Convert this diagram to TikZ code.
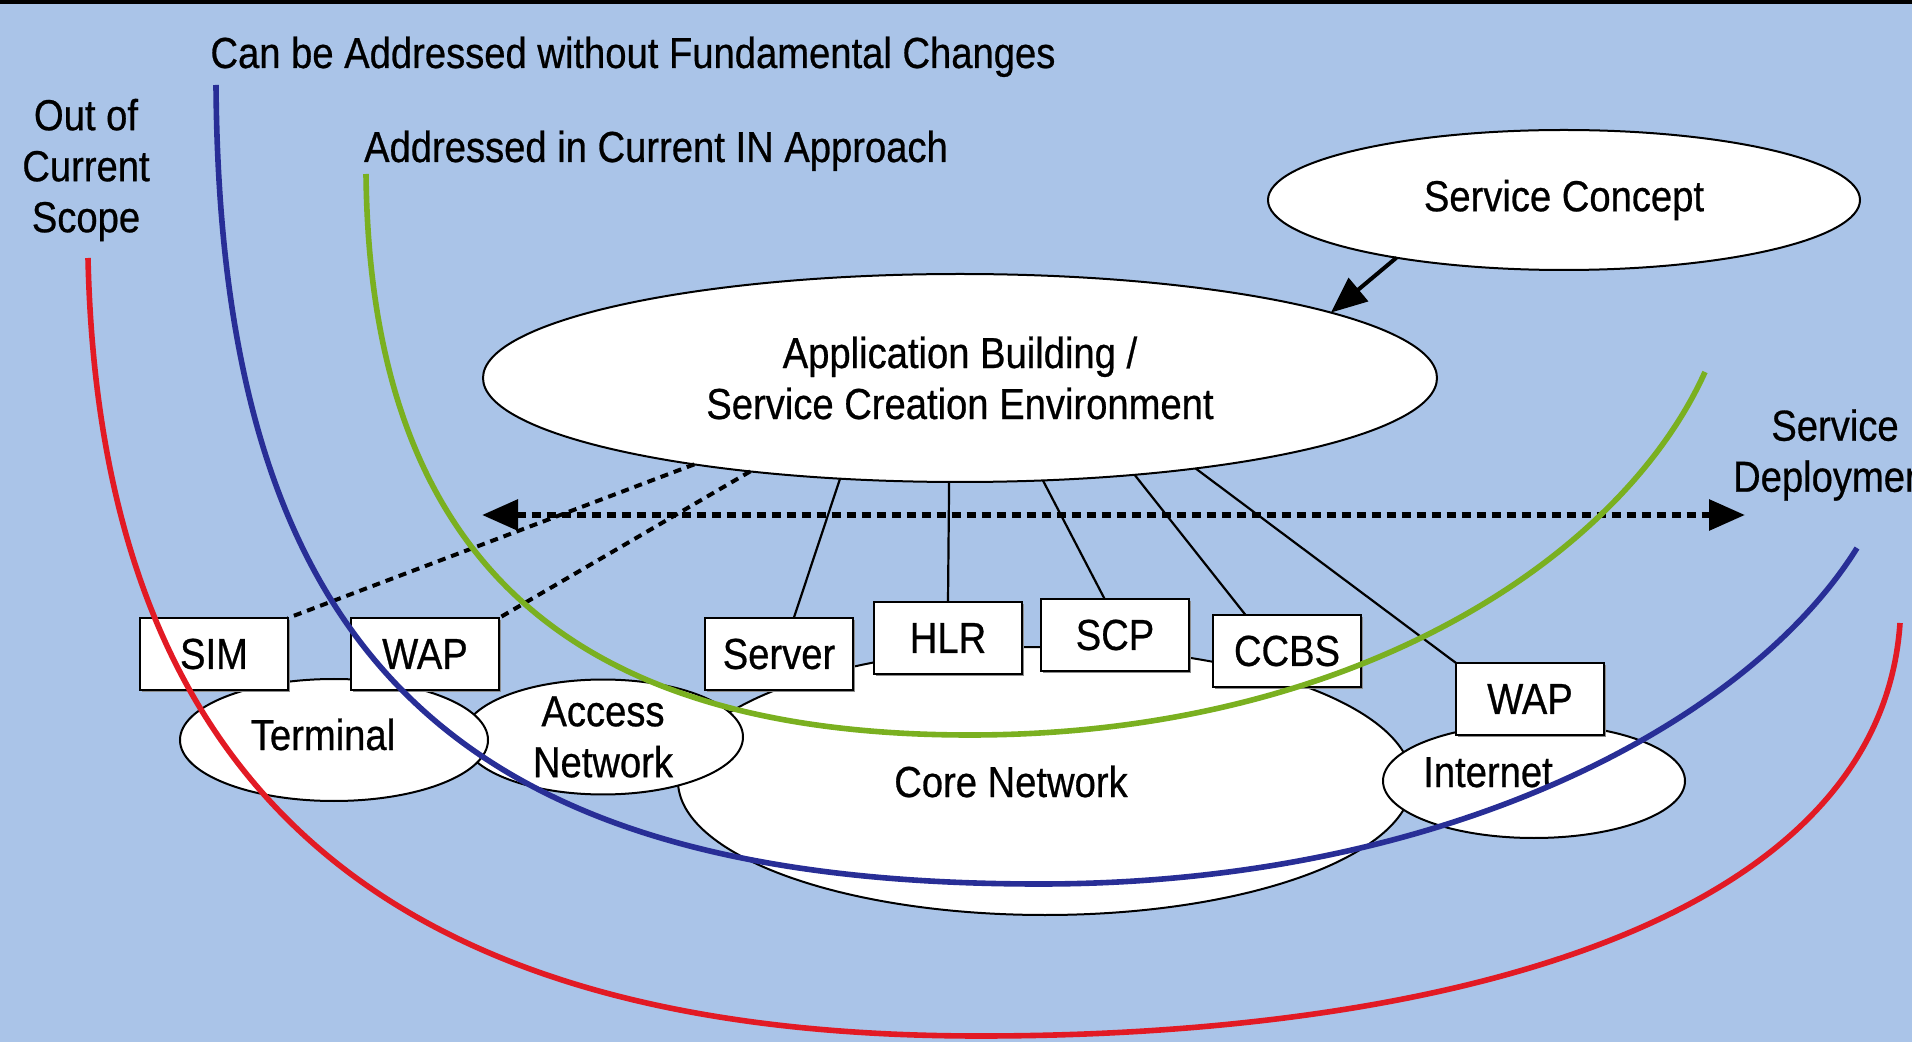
\documentclass[tikz,border=0pt]{standalone}
\usepackage{fontspec}
\setmainfont{Liberation Sans}[FakeStretch=0.88,FakeBold=0.6]
\usetikzlibrary{arrows.meta,calc,shapes.geometric,shadows}
\definecolor{bgblue}{RGB}{170,196,232}
\definecolor{curvered}{RGB}{226,26,36}
\definecolor{curveblue}{RGB}{40,46,150}
\definecolor{curvegreen}{RGB}{122,176,32}
\begin{document}
\begin{tikzpicture}[x=0.5pt,y=-0.5pt,
  every node/.style={font=\fontsize{21.7pt}{25.5pt}\selectfont, text=black},
  oval/.style={ellipse, draw=black, line width=1pt, fill=white, inner sep=0pt, outer sep=0pt, align=center},
  box/.style={rectangle, draw=black, line width=1.1pt, fill=white, minimum width=74pt, minimum height=36pt,
    inner sep=0pt, outer sep=0pt, drop shadow={shadow xshift=1.2pt, shadow yshift=-1.2pt, fill=black!45, opacity=1}},
  lbl/.style={inner sep=0pt, outer sep=0pt, align=center},
  conn/.style={draw=black, line width=1.1pt},
  dotline/.style={draw=black, line width=2pt, dash pattern=on 4pt off 3pt},
  dotarrow/.style={draw=black, line width=3pt, dash pattern=on 4.5pt off 3pt,
    {Triangle[length=18pt,width=15pt]}-{Triangle[length=18pt,width=15pt]}},
  scarrow/.style={draw=black, line width=2pt, -{Triangle[length=18pt,width=15pt]}},
  curve/.style={line width=2.8pt}
]
% background and frame
\fill[bgblue] (0,0) rectangle (1912,1042);
\useasboundingbox (0,0) rectangle (1912,1042);
\clip (0,0) rectangle (1912,1042);
\fill[black] (0,0) rectangle (1912,4);

% ellipses
\node[oval, minimum width=367pt, minimum height=134pt] (core) at (1045,781) {};
\node[oval, minimum width=140pt, minimum height=57pt] (access) at (603,737) {Access\\Network};
\node[oval, minimum width=154pt, minimum height=61pt] (terminal) at (334,740) {};
\node[oval, minimum width=151pt, minimum height=57pt] (internet) at (1534,781) {};
\node[oval, minimum width=477pt, minimum height=104pt] (app) at (960,378) {Application Building /\\Service Creation Environment};
\node[oval, minimum width=296pt, minimum height=70pt] (sc) at (1564,200) {Service Concept};

% texts inside terminal, core and internet
\node[lbl, anchor=base] (termtext) at (323,750) {Terminal};
\node[lbl, anchor=base] (coretext) at (1011,797) {Core Network};
\node[lbl, anchor=base] (internettext) at (1488,787) {Internet};

% boxes
\node[box] (sim) at (214,654) {SIM};
\node[box] (wapl) at (425,654) {WAP};
\node[box] (server) at (779,654) {Server};
\node[box] (hlr) at (948,638) {HLR};
\node[box] (scp) at (1115,635) {SCP};
\node[box] (ccbs) at (1287,651) {CCBS};
\node[box] (wapr) at (1530,699) {WAP};

% connectors
\draw[conn] (app.-140.3) -- ($(server.north west)!0.6!(server.north east)$);
\draw[conn] (app.-96.6) -- (hlr.north);
\draw[conn] (app.-51.7) -- ($(scp.north west)!0.43!(scp.north east)$);
\draw[conn] (app.-29.9) -- ($(ccbs.north west)!0.22!(ccbs.north east)$);
\draw[conn] (app.-21.7) -- (wapr.north west);
\draw[dotline] (app.198.4) -- (sim.north east);
\draw[dotline] (app.-156) -- (wapl.north east);
\draw[scarrow] (sc.-161) -- (app.10.5);
\coordinate (dl) at (482,515);
\coordinate (dr) at (1745,515);
\draw[dotarrow] (dl) -- (dr);

% scope curves
\draw[curve, curvered] (88,258) .. controls (100,800) and (400,1036) .. (980,1036)
  .. controls (1450,1036) and (1880,920) .. (1900,623);
\draw[curve, curveblue] (216,85) .. controls (220,650) and (450,884) .. (1040,884)
  .. controls (1450,884) and (1750,720) .. (1857,548);
\draw[curve, curvegreen] (366,174) .. controls (370,560) and (570,735) .. (970,735)
  .. controls (1350,735) and (1620,560) .. (1705,372);

% labels
\node[lbl] (outscope) at (86,170) {Out of\\Current\\Scope};
\node[lbl, anchor=base] (canbe) at (633,68) {Can be Addressed without Fundamental Changes};
\node[lbl, anchor=base] (addressed) at (656,162) {Addressed in Current IN Approach};
\node[lbl] (deploy) at (1835,455) {Service\\Deployment};
\end{tikzpicture}
\end{document}
